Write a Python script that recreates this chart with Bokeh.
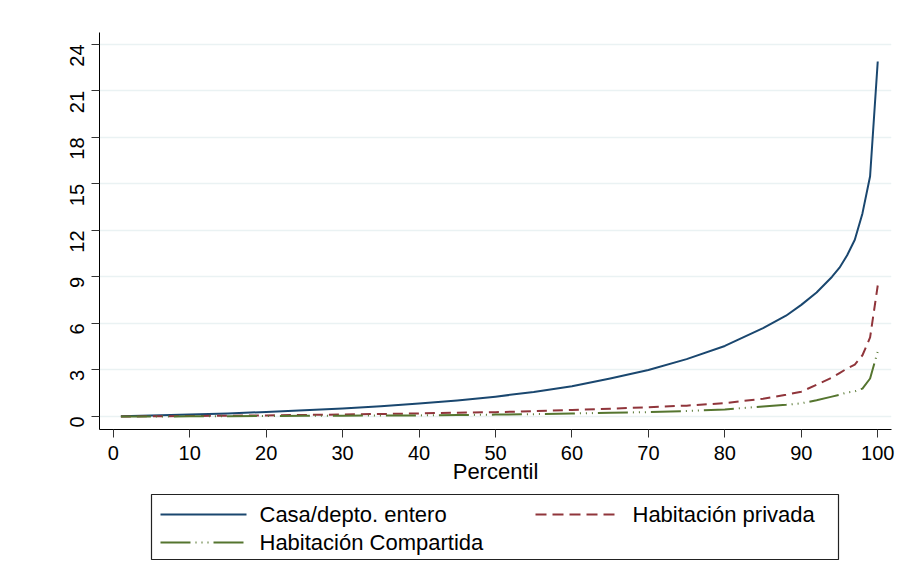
import math
from bokeh.plotting import figure
from bokeh.models import Range1d, FixedTicker
from bokeh.layouts import column
from bokeh.embed import file_html
from bokeh.resources import INLINE
from bokeh.core.properties import value

# ---- data ----
percentil = [1, 5, 10, 15, 20, 25, 30, 35, 40, 45, 50, 55, 60, 65, 70, 75, 80,
             85, 88, 90, 92, 94, 95, 96, 97, 98, 99, 100]
casa = [0.02, 0.07, 0.13, 0.20, 0.29, 0.40, 0.52, 0.66, 0.83, 1.03, 1.28, 1.58,
        1.95, 2.45, 3.00, 3.70, 4.55, 5.70, 6.50, 7.20, 8.00, 9.00, 9.60, 10.4,
        11.4, 13.1, 15.5, 22.9]
privada = [0.00, 0.01, 0.03, 0.05, 0.07, 0.10, 0.13, 0.16, 0.20, 0.24, 0.28, 0.34,
           0.42, 0.50, 0.60, 0.70, 0.86, 1.15, 1.40, 1.60, 2.05, 2.50, 2.80, 3.10,
           3.35, 3.95, 5.10, 8.45]
compartida = [0.00, 0.00, 0.01, 0.02, 0.03, 0.04, 0.05, 0.06, 0.07, 0.09, 0.12, 0.15,
              0.19, 0.24, 0.28, 0.35, 0.45, 0.65, 0.75, 0.85, 1.05, 1.28, 1.40, 1.55,
              1.62, 1.80, 2.45, 4.20]
series_names = ["Casa/depto. entero", "Habitación privada", "Habitación Compartida"]
x_ticks = list(range(0, 101, 10))
y_ticks = list(range(0, 25, 3))
x_title = "Percentil"

# ---- styles ----
colors = ["#1a476f", "#90353b", "#55752f"]
dashes = ["solid", "10 6", "30 5 1 5 1 5 1 5"]
FONT = "Liberation Sans"
FS = "20px"
FS_BIG = "22px"
W = 903
FRAME_L, FRAME_R = 99, 891
MAIN_H = 493
LEG_H = 80

p = figure(width=W, height=MAIN_H, x_range=Range1d(-1.8, 101.8),
           y_range=Range1d(-0.84, 24.77), output_backend="svg",
           toolbar_location=None, min_border_left=FRAME_L,
           min_border_right=W - FRAME_R, min_border_top=32,
           min_border_bottom=MAIN_H - 429)
p.outline_line_color = None
p.background_fill_color = "white"
p.border_fill_color = "white"
p.xgrid.visible = False
p.ygrid.grid_line_color = "#eaf2f3"
p.ygrid.grid_line_width = 1.5
p.xaxis.ticker = FixedTicker(ticks=x_ticks)
p.yaxis.ticker = FixedTicker(ticks=y_ticks)
for ax in (p.xaxis, p.yaxis):
    ax.minor_tick_line_color = None
    ax.major_tick_out = 8
    ax.major_tick_in = 0
    ax.axis_line_color = "black"
    ax.axis_line_width = 1
    ax.major_tick_line_color = "#333333"
    ax.major_label_text_font = FONT
    ax.major_label_text_font_size = FS
    ax.major_label_text_color = "black"
p.yaxis.major_label_orientation = math.pi / 2
p.yaxis.major_label_standoff = 14
p.xaxis.major_label_standoff = 8
p.xaxis.axis_label = x_title
p.xaxis.axis_label_text_font = FONT
p.xaxis.axis_label_text_font_size = FS_BIG
p.xaxis.axis_label_text_font_style = "normal"
p.xaxis.axis_label_text_color = "black"
p.xaxis.axis_label_standoff = -4

for ys, c, d in zip([casa, privada, compartida], colors, dashes):
    p.line(percentil, ys, line_color=c, line_width=2, line_dash=d,
           line_join="round")

# ---- legend panel (data units = page pixels) ----
lg = figure(width=W, height=LEG_H, x_range=Range1d(FRAME_L, FRAME_R),
            y_range=Range1d(MAIN_H + LEG_H, MAIN_H),
            output_backend="svg", toolbar_location=None,
            min_border_left=FRAME_L, min_border_right=W - FRAME_R,
            min_border_top=0, min_border_bottom=0,
            x_axis_type=None, y_axis_type=None)
lg.outline_line_color = None
lg.xgrid.visible = False
lg.ygrid.visible = False
lg.quad(left=[151], right=[838], top=[494], bottom=[559], fill_color=None,
        line_color="#222222", line_width=1.2)
sx0 = [160, 535, 160]
sx1 = [246, 620, 246]
sy = [514, 514, 542]
tx = [259, 632, 259]
leg_dash = ["solid", "11 6", "30 5 1 5 1 5 1 5"]
for i in range(3):
    lg.line([sx0[i], sx1[i]], [sy[i], sy[i]], line_color=colors[i], line_width=2,
            line_dash=leg_dash[i])
lg.text(x=tx, y=sy, text=series_names, text_baseline="middle", text_align="left",
        text_font=value(FONT), text_font_size=FS_BIG, text_color="black")

layout = column(p, lg, spacing=0)
open("out.html", "w").write(file_html(layout, INLINE))
